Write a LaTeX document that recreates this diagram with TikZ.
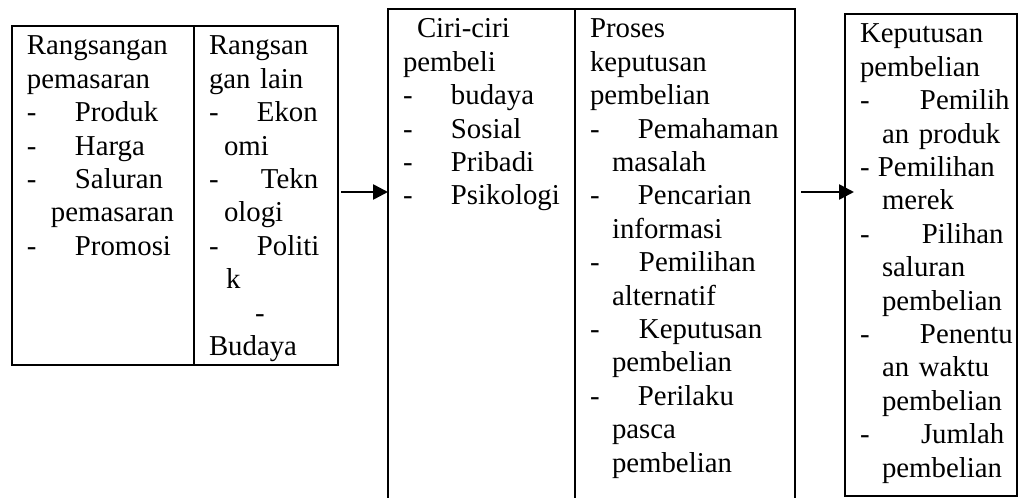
\documentclass[tikz,border=0pt]{standalone}
\usepackage{fontspec}
\setmainfont{Liberation Serif}
\usetikzlibrary{arrows.meta}
\setlength{\parindent}{0pt}
\newcommand\cellfont{\fontsize{28.8pt}{33.4pt}\selectfont}
\newcommand\myind[2]{\hspace*{#1pt}#2}
\newcommand\mydash[2]{\makebox[#1pt][l]{-}#2}
\begin{document}
\begin{tikzpicture}[x=1pt,y=-1pt,
  boxline/.style={draw=black, line width=2.2pt},
  frame/.style={boxline, anchor=north west, inner sep=0pt, outer sep=0pt},
  cell/.style={anchor=north west, inner sep=0pt, outer sep=0pt, align=left, text width=#1, font=\cellfont},
  link/.style={line width=2.6pt, -{Triangle[length=15pt,width=15pt]}}]
\useasboundingbox (0,0) rectangle (1021,498);
\clip (0,0) rectangle (1021,498);
\fill[white] (0,0) rectangle (1021,498);

% frames
\node[frame, minimum width=326pt, minimum height=339pt] (box1) at (12,26) {};
\node[frame, minimum width=407pt, minimum height=510pt] (box2) at (388,9) {};
\node[frame, minimum width=172pt, minimum height=482pt] (box3) at (845,14) {};
\draw[boxline] (194,0 |- box1.north) -- (194,0 |- box1.south);
\draw[boxline] (575,0 |- box2.north) -- (575,0 |- box2.south);

% cell texts
\node[cell=160pt] (stim) at (27,31.6) {\strut Rangsangan\\
pemasaran\\
\mydash{48}{Produk}\\
\mydash{48}{Harga}\\
\mydash{48}{Saluran}\\
\myind{24}{pemasaran}\\
\mydash{48}{Promosi}};

\node[cell=120pt] (other) at (209,31.6) {\strut Rangsan\\
gan lain\\
\mydash{48}{Ekon}\\
\myind{15}{omi}\\
\mydash{52}{Tekn}\\
\myind{15}{ologi}\\
\mydash{48}{Politi}\\
\myind{17}{k}\\
\myind{46}{-}\\
Budaya};

\node[cell=170pt] (traits) at (403,14.6) {\strut\myind{14}{Ciri-ciri}\\
pembeli\\
\mydash{48}{budaya}\\
\mydash{48}{Sosial}\\
\mydash{48}{Pribadi}\\
\mydash{48}{Psikologi}};

\node[cell=200pt] (process) at (590,14.6) {\strut Proses\\
keputusan\\
pembelian\\
\mydash{48}{Pemahaman}\\
\myind{22}{masalah}\\
\mydash{48}{Pencarian}\\
\myind{22}{informasi}\\
\mydash{49}{Pemilihan}\\
\myind{22}{alternatif}\\
\mydash{49}{Keputusan}\\
\myind{22}{pembelian}\\
\mydash{48}{Perilaku}\\
\myind{22}{pasca}\\
\myind{22}{pembelian}};

\node[cell=155pt] (decision) at (860,19.6) {\strut Keputusan\\
pembelian\\
\mydash{60}{Pemilih}\\
\myind{22}{an produk}\\
\mydash{18}{Pemilihan}\\
\myind{22}{merek}\\
\mydash{62}{Pilihan}\\
\myind{22}{saluran}\\
\myind{22}{pembelian}\\
\mydash{60}{Penentu}\\
\myind{22}{an waktu}\\
\myind{22}{pembelian}\\
\mydash{61}{Jumlah}\\
\myind{22}{pembelian}};

% connectors
\coordinate (j1) at (0,192);
\draw[link, shorten <=3pt] (box1.east |- j1) -- (box2.west |- j1);
\draw[link, shorten <=6pt, shorten >=-9pt] (box2.east |- j1) -- (box3.west |- j1);
\end{tikzpicture}
\end{document}
